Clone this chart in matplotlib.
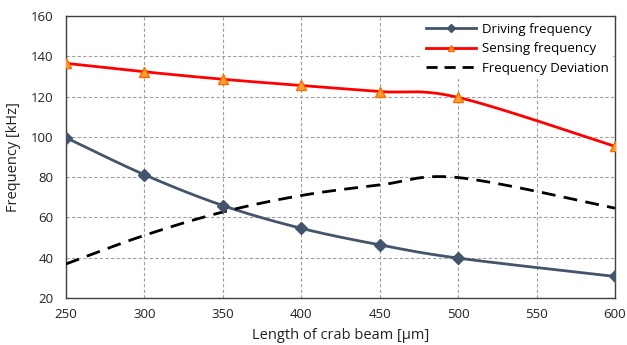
import numpy as np
import matplotlib
matplotlib.use("Agg")
import matplotlib.pyplot as plt
from matplotlib.lines import Line2D

length = [250, 300, 350, 400, 450, 500, 600]
driving = [99.6, 81.2, 65.9, 54.6, 46.4, 39.8, 30.7]
sensing = [136.5, 132.3, 128.6, 125.5, 122.5, 119.6, 95.3]
deviation = [36.9, 51.1, 62.7, 70.9, 76.1, 79.8, 64.6]
xticks = [250, 300, 350, 400, 450, 500, 550, 600]
yticks = [20, 40, 60, 80, 100, 120, 140, 160]

plt.rcParams['font.family'] = ['Open Sans', 'DejaVu Sans']


def smooth(x, y, n=40):
    # Excel-like Bezier smoothing (Catmull-Rom, tension 1/6)
    x = np.asarray(x, float)
    y = np.asarray(y, float)
    P = np.column_stack([x, y])
    out = []
    m = len(P)
    for i in range(m - 1):
        p0 = P[i - 1] if i > 0 else P[i]
        p1 = P[i]
        p2 = P[i + 1]
        p3 = P[i + 2] if i + 2 < m else P[i + 1]
        c1 = p1 + (p2 - p0) / 6.0
        c2 = p2 - (p3 - p1) / 6.0
        t = np.linspace(0, 1, n)[:, None]
        seg = ((1 - t) ** 3) * p1 + 3 * ((1 - t) ** 2) * t * c1 + 3 * (1 - t) * t ** 2 * c2 + t ** 3 * p2
        if i > 0:
            seg = seg[1:]
        out.append(seg)
    S = np.vstack(out)
    return S[:, 0], S[:, 1]


fig = plt.figure(figsize=(6.27, 3.45), dpi=100)
ax = fig.add_axes([66 / 627, 1 - 298 / 345, (615 - 66) / 627, (298 - 16) / 345])

blue = '#44546A'
red = '#FF0000'
orange = '#FFA030'

sx, sy = smooth(length, driving)
ax.plot(sx, sy, color=blue, lw=2, zorder=3)
ax.plot(length, driving, linestyle='none', marker='D', ms=6, color=blue, zorder=4)

sx, sy = smooth(length, sensing)
ax.plot(sx, sy, color=red, lw=2, zorder=3)
ax.plot(length, sensing, linestyle='none', marker='^', ms=7, markerfacecolor=orange,
        markeredgecolor='#FF6A00', markeredgewidth=1, zorder=4)

sx, sy = smooth(length, deviation)
ax.plot(sx, sy, color='black', lw=2, linestyle=(0, (5, 3)), zorder=3)

handles = [
    Line2D([], [], color=blue, lw=2, marker='D', ms=4),
    Line2D([], [], color=red, lw=2, marker='^', ms=5, markerfacecolor=orange, markeredgecolor='#FF6A00'),
    Line2D([], [], color='black', lw=2, linestyle=(0, (4, 2.5))),
]
leg = ax.legend(handles, ['Driving frequency', 'Sensing frequency', 'Frequency Deviation'],
                loc='upper right', frameon=True, fancybox=False, framealpha=1,
                edgecolor='white', fontsize=9.5, handlelength=3.8, borderpad=0.35,
                labelspacing=0.5, handletextpad=0.4, borderaxespad=0.15)
leg.get_frame().set_linewidth(0)
leg.set_zorder(5)

ax.set_xlim(250, 600)
ax.set_ylim(20, 160)
ax.set_xticks(xticks)
ax.set_yticks(yticks)
ax.tick_params(axis='x', length=0, labelsize=9.5, pad=7, colors='#222222')
ax.tick_params(axis='y', length=0, labelsize=9.5, pad=9, colors='#222222')
ax.grid(True, color='#A0A0A0', linestyle=(0, (3, 2)), lw=0.8)
ax.set_axisbelow(True)
for s in ax.spines.values():
    s.set_color('#404040')
    s.set_linewidth(1)

ax.set_xlabel('Length of crab beam [µm]', fontsize=10.5, color='#222222', labelpad=5)
ax.set_ylabel('Frequency [kHz]', fontsize=10.5, color='#222222', labelpad=7)

fig.savefig('out.png', dpi=100)
